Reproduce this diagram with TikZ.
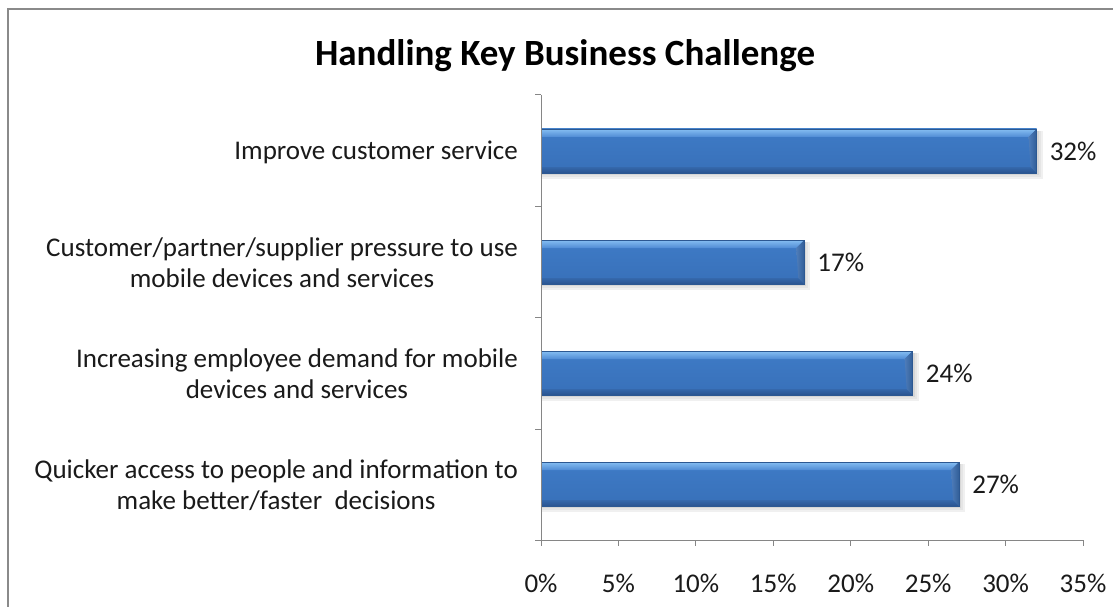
\documentclass[tikz,border=0pt]{standalone}
\usepackage{fontspec}
\setmainfont{Carlito}
\definecolor{axisgray}{HTML}{868686}
\definecolor{framegray}{HTML}{8A8A8A}
\definecolor{barfacetop}{HTML}{3E7BC6}
\definecolor{barfacebot}{HTML}{3870B9}
\definecolor{bevtoplight}{HTML}{86BEF2}
\definecolor{bevtopdark}{HTML}{4F8BD4}
\definecolor{bevbotlight}{HTML}{3568AC}
\definecolor{bevbotdark}{HTML}{2A548F}
\definecolor{bevright}{HTML}{3A6EB2}
\definecolor{baredge}{HTML}{2C5892}
\definecolor{txt}{HTML}{1A1A1A}
\tikzset{
  axisline/.style={draw=axisgray, line width=1},
  catlbl/.style={font=\fontsize{27}{31}\selectfont, text=txt, align=center, anchor=east, inner sep=0},
  vallbl/.style={font=\fontsize{27}{31}\selectfont, text=txt, anchor=west, inner sep=0},
  ticklbl/.style={font=\fontsize{27}{31}\selectfont, text=txt, inner sep=0},
  titlelbl/.style={font=\bfseries\fontsize{37}{42}\selectfont, text=black, inner sep=0},
}
\begin{document}
\begin{tikzpicture}[x=1pt,y=-1pt]
\useasboundingbox (0,0) rectangle (1113,607);
\fill[white] (0,0) rectangle (1113,607);
% frame (right and bottom edges lie outside the picture)
\draw[framegray, line width=2.5] (8,640) -- (8,9) -- (1140,9);
% title
\node[titlelbl] (title) at (565,56) {Handling Key Business Challenge};
% bars
\foreach \i/\v/\yc in {1/32/151, 2/17/262, 3/24/373, 4/27/484}{
  \pgfmathsetmacro{\xe}{541+\v*15.486}
  \pgfmathsetmacro{\yt}{\yc-22}
  \pgfmathsetmacro{\yb}{\yc+22}
  % soft shadow
  \fill[black!6] (542,\yt+2) rectangle (\xe+6,\yb+6);
  \fill[black!10] (542,\yt+2) rectangle (\xe+4,\yb+4);
  \fill[black!16] (542,\yt+2) rectangle (\xe+2,\yb+2);
  % face
  \shade[top color=barfacetop, bottom color=barfacebot] (541,\yt) rectangle (\xe,\yb);
  % bevels
  \shade[top color=bevtoplight, bottom color=bevtopdark] (541,\yt) -- (\xe,\yt) -- (\xe-8,\yt+8) -- (541,\yt+8) -- cycle;
  \shade[top color=bevbotlight, bottom color=bevbotdark] (541,\yb-6) -- (\xe-6,\yb-6) -- (\xe,\yb) -- (541,\yb) -- cycle;
  \shade[left color=bevright!90!white, right color=bevright!85!black] (\xe,\yt) -- (\xe,\yb) -- (\xe-6,\yb-6) -- (\xe-8,\yt+8) -- cycle;
  \draw[baredge, line width=0.4] (541,\yt) rectangle (\xe,\yb);
  \coordinate (barend\i) at (\xe,\yc);
  \node[vallbl] (val\i) at ([xshift=13pt]barend\i) {\v\%};
}
% axes
\draw[axisline] (541,95) -- (541,540) -- (1083,540);
\foreach \y in {95,206,317,429,540}
  \draw[axisline] (535,\y) -- (541,\y);
\foreach \k in {0,...,7}{
  \pgfmathsetmacro{\xt}{541+\k*77.43}
  \draw[axisline] (\xt,540) -- (\xt,546);
  \pgfmathtruncatemacro{\pc}{5*\k}
  \node[ticklbl] (tick\k) at (\xt,583) {\pc\%};
}
% category labels
\node[catlbl] (cat1) at (518,152) {Improve customer service};
\node[catlbl] (cat2) at (518,263) {Customer/partner/supplier pressure to use\\mobile devices and services};
\node[catlbl] (cat3) at (518,374) {Increasing employee demand for mobile\\devices and services};
\node[catlbl] (cat4) at (518,485) {Quicker access to people and information to\\make better/faster\ \ decisions};
\end{tikzpicture}
\end{document}
